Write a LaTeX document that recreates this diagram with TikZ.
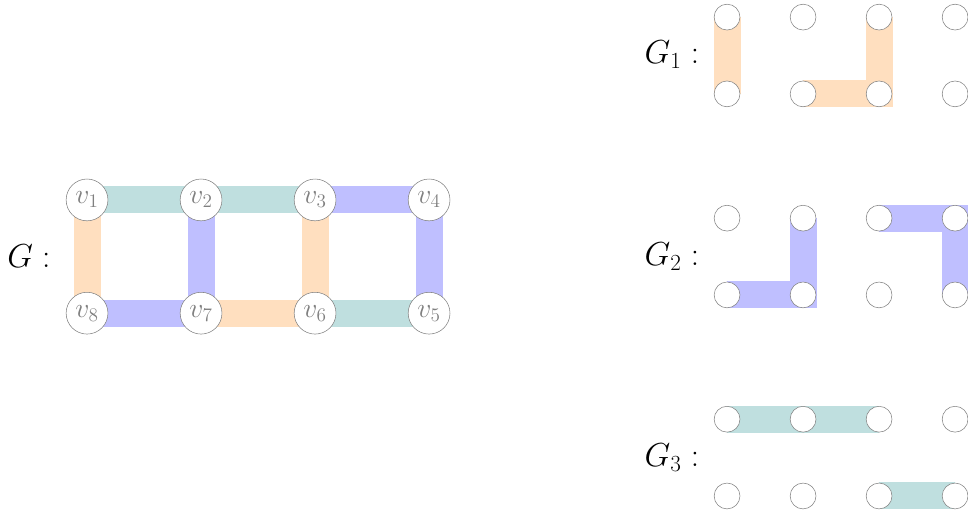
\documentclass[tikz,border=0pt]{standalone}
\usepackage{mathtools}
\usetikzlibrary{backgrounds}

\tikzset{
  vert/.style={circle,draw=gray,fill=white,text=gray,minimum size=1.1cm,inner sep=0pt,font=\fontsize{20.5}{24}\selectfont},
  dot/.style={circle,draw=gray,fill=white,minimum size=0.68cm,inner sep=0pt},
  glabel/.style={font=\fontsize{23.5}{28}\selectfont},
  band/.style={line width=0.71cm},
  cA/.style={band,draw=orange!25},
  cB/.style={band,draw=blue!25},
  cC/.style={band,draw=teal!25}
}

\begin{document}
\begin{tikzpicture}
          \useasboundingbox (0,0) rectangle (25.47,-13.53);
          % the graph G
          \node[glabel] (G) at (0.76,-6.75) {$G:$};
          \node[vert] (v1) at (2.29,-5.26) {$v_1$};
          \node[vert] (v2) at (5.29,-5.26) {$v_2$};
          \node[vert] (v3) at (8.29,-5.26) {$v_3$};
          \node[vert] (v4) at (11.29,-5.26) {$v_4$};
          \node[vert] (v8) at (2.29,-8.24) {$v_8$};
          \node[vert] (v7) at (5.29,-8.24) {$v_7$};
          \node[vert] (v6) at (8.29,-8.24) {$v_6$};
          \node[vert] (v5) at (11.29,-8.24) {$v_5$};
          \begin{scope}[on background layer]
            \draw[cC] (v1.center) -- (v2.center) -- (v3.center);
            \draw[cC] (v6.center) -- (v5.center);
            \draw[cB] (v3.center) -- (v4.center) -- (v5.center);
            \draw[cB] (v2.center) -- (v7.center) -- (v8.center);
            \draw[cA] (v1.center) -- (v8.center);
            \draw[cA] (v3.center) -- (v6.center) -- (v7.center);
          \end{scope}
          % the three subgraphs
          \foreach \g/\y in {1/-0.45,2/-5.74,3/-11.03}{
            \node[glabel] (G\g) at (17.68,\y-1) {$G_\g:$};
            \foreach \i/\j/\x in {1/8/19.13,2/7/21.13,3/6/23.13,4/5/25.13}{
              \node[dot] (g\g-\i) at (\x,\y) {};
              \node[dot] (g\g-\j) at (\x,\y-2.02) {};
            }
          }
          \begin{scope}[on background layer]
            \draw[cA] (g1-1.center) -- (g1-8.center);
            \draw[cA] (g1-7.center) -- (g1-6.center) -- (g1-3.center);
            \draw[cB] (g2-8.center) -- (g2-7.center) -- (g2-2.center);
            \draw[cB] (g2-3.center) -- (g2-4.center) -- (g2-5.center);
            \draw[cC] (g3-1.center) -- (g3-2.center) -- (g3-3.center);
            \draw[cC] (g3-6.center) -- (g3-5.center);
          \end{scope}
        \end{tikzpicture}
\end{document}
